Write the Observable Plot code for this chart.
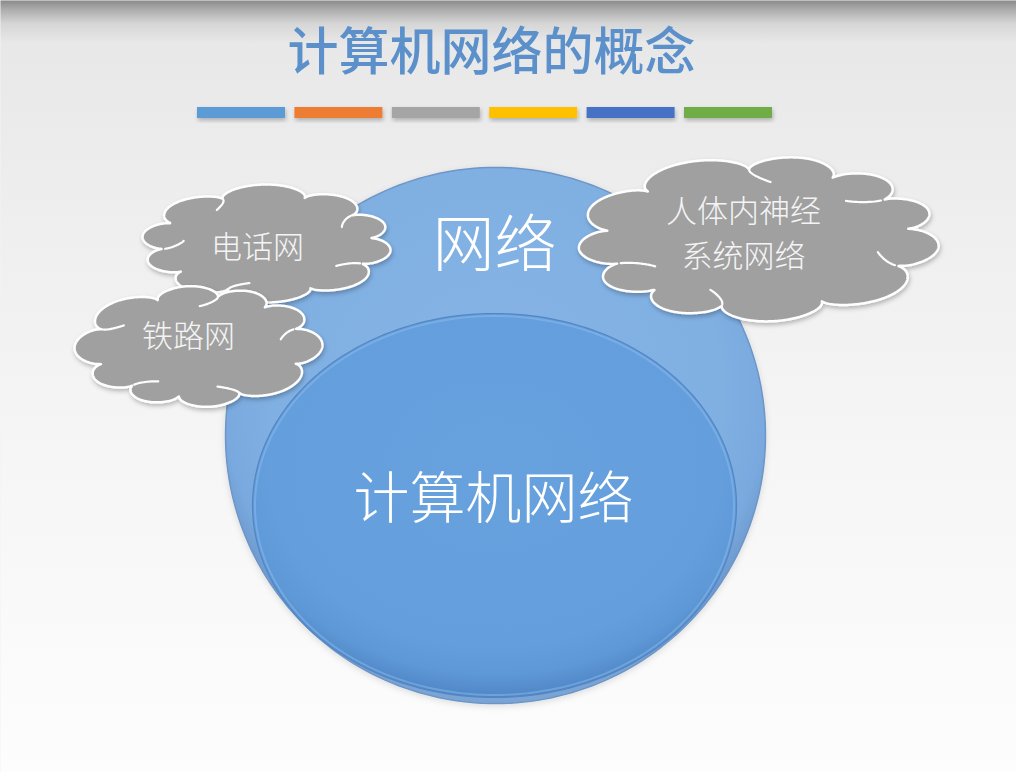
<!DOCTYPE html>
<html><head><meta charset="utf-8">
<script src="https://cdn.jsdelivr.net/npm/d3@7"></script>
<script src="https://cdn.jsdelivr.net/npm/@observablehq/plot@0.6"></script>
<style>
html,body{margin:0;padding:0;background:#f3f3f3;overflow:hidden;}
#chart svg{display:block;}
</style>
</head><body><div id="chart"></div>
<script>
// ---- content ----
const titleText = "计算机网络的概念";
const barColors = ["#5b9bd5", "#ed7d31", "#a5a5a5", "#ffc000", "#4472c4", "#70ad47"];
const circleLabels = ["网络", "计算机网络"];
const cloudLabels = ["电话网", "铁路网", "人体内神经\n系统网络"];

// ---- layout (pixels) ----
const W = 1016, H = 772;
const FONT = "'Noto Sans CJK SC', 'Noto Sans', sans-serif";
const barLayout = {x0: 197, step: 97.4, width: 88, y1: 107, y2: 118};
const circleLayout = [
  {cx: 495, cy: 435, rx: 270, ry: 268, tx: 494, ty: 247, size: 62},
  {cx: 494, cy: 505, rx: 242, ry: 192, tx: 493, ty: 500, size: 56}
];
const cloudLayout = [
  {cx: 266, cy: 243, w: 250, h: 118, n: 10, phase: 0.35, warp: 0.5, tx: 257, ty: 248},
  {cx: 198, cy: 346, w: 248, h: 121, n: 10, phase: 1.1, warp: 2.0, tx: 188, ty: 337},
  {cx: 758, cy: 238, w: 362, h: 166, n: 11, phase: 0.2, warp: 1.1, tx: 743, ty: 212}
];
const LINE_GAP = 45;
// identifying colours (used to find the groups after rendering)
const C_OUTER = "#6d96c8", C_INNER = "#5585c2", C_CLOUD = "#fefefe", C_ARC = "#fdfdfd", C_BG = "#eeeeee";

// ---- shape generators ----
function ellipsePts(c, shrink = 0) {
  const pts = [];
  for (let i = 0; i < 240; i++) {
    const t = i / 240 * 2 * Math.PI;
    pts.push({x: c.cx + (c.rx - shrink) * Math.cos(t), y: c.cy + (c.ry - shrink) * Math.sin(t)});
  }
  return pts;
}
const AMP = 0.21;
function bump(c, t) {
  const u = t + 0.14 * Math.sin(2 * t + c.warp);
  return Math.sin(c.n * u / 2 + c.phase);
}
function cloudXY(c, t, inward) {
  const rx = c.w / 2 / (1 + AMP), ry = c.h / 2 / (1 + AMP);
  const s = Math.pow(Math.abs(bump(c, t)), 0.55);
  const r = inward ? 1 - AMP * s : 1 + AMP * s;
  return [c.cx + rx * r * Math.cos(t), c.cy + ry * r * Math.sin(t)];
}
function cloudPts(c) {
  const pts = [];
  const N = 900;
  for (let i = 0; i < N; i++) {
    const t = i / N * 2 * Math.PI;
    const [x, y] = cloudXY(c, t, false);
    pts.push({x, y});
  }
  return pts;
}
function cloudArcs(c, id, picks) {
  const arcs = [];
  const N = 2400, vals = [];
  for (let i = 0; i < N; i++) vals.push(Math.abs(bump(c, i / N * 2 * Math.PI)));
  const valleys = [];
  for (let i = 0; i < N; i++) {
    const a = vals[(i - 1 + N) % N], b = vals[i], d = vals[(i + 1) % N];
    if (b <= a && b <= d && b < 0.05) valleys.push(i / N * 2 * Math.PI);
  }
  picks.forEach(([k, dir], j) => {
    const tv = valleys[k % valleys.length];
    const span = (2 * Math.PI / c.n) * 0.28;
    for (let m = 0; m <= 24; m++) {
      const t = tv + dir * span * m / 24;
      const [x, y] = cloudXY(c, t, true);
      arcs.push({id: id + "-" + j, x, y});
    }
  });
  return arcs;
}

// ---- data tables ----
const bars = barColors.map((color, i) => ({
  color, x1: barLayout.x0 + i * barLayout.step, x2: barLayout.x0 + i * barLayout.step + barLayout.width,
  y1: barLayout.y1, y2: barLayout.y2
}));
const circleText = circleLabels.map((text, i) => ({text, ...circleLayout[i]}));
const cloudText = cloudLabels.flatMap((label, i) =>
  label.split("\n").map((text, j) => ({text, tx: cloudLayout[i].tx, ty: cloudLayout[i].ty + j * LINE_GAP})));
const outerPts = ellipsePts(circleLayout[0]);
const innerPts = ellipsePts(circleLayout[1]);
const innerHi = ellipsePts(circleLayout[1], 2.5);
const cloudShapes = cloudLayout.map(c => cloudPts(c));
const arcPicks = [
  [[0, 1], [2, -1], [4, 1], [6, -1], [8, 1]],
  [[1, 1], [3, -1], [5, 1], [7, -1], [9, 1]],
  [[0, -1], [2, 1], [4, -1], [7, 1], [9, -1]]
];
const cloudInner = cloudLayout.map((c, i) => cloudArcs(c, "a" + i, arcPicks[i]));

const marks = [
  Plot.frame({fill: C_BG, stroke: "none"}),
  Plot.text([titleText], {x: () => 491, y: () => 53, text: d => d, fill: "#5b90cb", fontSize: 51, fontWeight: 500, fontFamily: FONT}),
  Plot.rect(bars, {x1: "x1", x2: "x2", y1: "y1", y2: "y2", fill: "color"}),
  Plot.line(outerPts, {x: "x", y: "y", curve: "linear-closed", stroke: C_OUTER, strokeWidth: 1.5}),
  Plot.line(innerPts, {x: "x", y: "y", curve: "linear-closed", stroke: C_INNER, strokeWidth: 1.2}),
  Plot.line(innerHi, {x: "x", y: "y", curve: "linear-closed", stroke: "#8fc0f0", strokeOpacity: 0.45, strokeWidth: 2}),
  Plot.text(circleText, {x: "tx", y: "ty", text: "text", fill: "white", fontSize: d => d.size, fontWeight: 300, fontFamily: FONT})
];
cloudLayout.forEach((c, i) => {
  marks.push(Plot.line(cloudShapes[i], {x: "x", y: "y", curve: "linear-closed", stroke: C_CLOUD, strokeWidth: 2.5}));
  marks.push(Plot.line(cloudInner[i], {x: "x", y: "y", z: "id", stroke: C_ARC, strokeWidth: 2.2}));
});
marks.push(Plot.text(cloudText, {x: "tx", y: "ty", text: "text", fill: "#f4f4f4", fontSize: 31, fontWeight: 300, fontFamily: FONT}));

const svg = Plot.plot({
  width: W, height: H, margin: 0,
  x: {domain: [0, W], range: [0, W], axis: null},
  y: {domain: [0, H], range: [0, H], axis: null},
  style: {background: "transparent", fontFamily: FONT},
  marks
});

const root = d3.select(svg);
const defs = root.insert("defs", ":first-child");
const bg = defs.append("linearGradient").attr("id", "gBg").attr("x1", 0).attr("y1", 0).attr("x2", 0).attr("y2", 1);
[[0, "#8a8a8a"], [0.012, "#adadad"], [0.03, "#d6d6d6"], [0.055, "#e8e8e8"], [0.3, "#efefef"], [0.6, "#f6f6f6"], [1, "#fdfdfd"]]
  .forEach(([o, c]) => bg.append("stop").attr("offset", o).attr("stop-color", c));
const go = defs.append("radialGradient").attr("id", "gOuter").attr("cx", 0.5).attr("cy", 0.42).attr("r", 0.56);
[[0, "#86b4e5"], [0.75, "#80afe2"], [0.9, "#79a9de"], [0.98, "#6d99cd"], [1, "#7aa4d4"]]
  .forEach(([o, c]) => go.append("stop").attr("offset", o).attr("stop-color", c));
const gi = defs.append("radialGradient").attr("id", "gInner").attr("cx", 0.5).attr("cy", 0.4).attr("r", 0.6);
[[0, "#67a1de"], [0.78, "#649edc"], [0.9, "#5f98d7"], [1, "#4f86c6"]]
  .forEach(([o, c]) => gi.append("stop").attr("offset", o).attr("stop-color", c));
const f = defs.append("filter").attr("id", "shadow").attr("x", "-20%").attr("y", "-20%").attr("width", "140%").attr("height", "160%");
f.append("feDropShadow").attr("dx", 1).attr("dy", 2.5).attr("stdDeviation", 2).attr("flood-color", "#000").attr("flood-opacity", 0.25);
const f2 = defs.append("filter").attr("id", "shadow2").attr("x", "-20%").attr("y", "-20%").attr("width", "140%").attr("height", "140%");
f2.append("feDropShadow").attr("dx", 0).attr("dy", 2).attr("stdDeviation", 3).attr("flood-color", "#000").attr("flood-opacity", 0.12);

const byAttr = (attr, val) => root.selectAll("g").filter(function() {
  return (this.getAttribute(attr) || "").toLowerCase() === val;
});
byAttr("fill", C_BG).selectAll("rect").attr("fill", "url(#gBg)");
root.selectAll("rect").filter(function() { return this.getAttribute("fill") === C_BG; }).attr("fill", "url(#gBg)");
byAttr("stroke", C_OUTER).attr("filter", "url(#shadow2)").selectAll("path").attr("fill", "url(#gOuter)");
byAttr("stroke", C_INNER).selectAll("path").attr("fill", "url(#gInner)");
byAttr("stroke", C_CLOUD).attr("filter", "url(#shadow)").selectAll("path").attr("fill", "#a0a0a0");
root.selectAll("rect").filter(function() { return barColors.includes((this.getAttribute("fill") || "").toLowerCase()); })
  .each(function() { d3.select(this.parentNode).attr("filter", "url(#shadow)"); });

document.getElementById("chart").appendChild(svg);
</script>
</body></html>
